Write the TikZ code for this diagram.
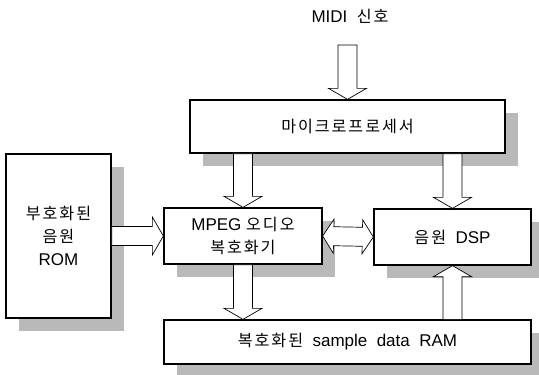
\documentclass[tikz,border=0pt]{standalone}
\usepackage{fontspec}
\setmainfont{Liberation Sans}
\newfontfamily\kr[LetterSpace=12,Scale=0.95]{Noto Sans CJK KR}
\usetikzlibrary{calc,shadows}

% hollow block arrow from #1 to #2
\newcommand{\fatarrow}[2]{%
  \draw[fat] ($(#1)!9.5pt!90:(#2)$) -- ($(#2)!11pt!(#1)!9.5pt!-90:(#1)$)
    -- ($(#2)!11pt!(#1)!19pt!-90:(#1)$) -- (#2)
    -- ($(#2)!11pt!(#1)!19pt!90:(#1)$) -- ($(#2)!11pt!(#1)!9.5pt!90:(#1)$)
    -- ($(#1)!9.5pt!-90:(#2)$) -- cycle;}
% same, with a head at both ends
\newcommand{\dfatarrow}[2]{%
  \draw[fat] (#1) -- ($(#1)!11pt!(#2)!17pt!90:(#2)$) -- ($(#1)!11pt!(#2)!9.5pt!90:(#2)$)
    -- ($(#2)!11pt!(#1)!9.5pt!-90:(#1)$) -- ($(#2)!11pt!(#1)!17pt!-90:(#1)$) -- (#2)
    -- ($(#2)!11pt!(#1)!17pt!90:(#1)$) -- ($(#2)!11pt!(#1)!9.5pt!90:(#1)$)
    -- ($(#1)!11pt!(#2)!9.5pt!-90:(#2)$) -- ($(#1)!11pt!(#2)!17pt!-90:(#2)$) -- cycle;}

\begin{document}
\begin{tikzpicture}
  [x=1pt,y=-1pt,
   every node/.style={font=\fontsize{17}{23}\selectfont,align=center},
   block/.style={draw,line width=1.3pt,fill=white,inner sep=0pt,
     drop shadow={shadow xshift=13pt,shadow yshift=-13pt,fill=gray!55,opacity=1}},
   fat/.style={draw,line width=0.7pt,fill=white,line join=miter}]
  \useasboundingbox (0,0) rectangle (539,375);

  \node (midi) at (350,16) {MIDI~~{\kr 신호}};
  \node[block,minimum width=315pt,minimum height=53pt] (micro) at (347.5,126.5) {\kr 마이크로프로세서};
  \node[block,minimum width=105pt,minimum height=164pt] (rom) at (58.5,236) {{\kr 부호화된}\\{\kr 음원}\\ROM};
  \node[block,minimum width=158pt,minimum height=56pt] (mpeg) at (243,236) {MPEG {\kr 오디오}\\{\kr 복호화기}};
  \node[block,minimum width=157pt,minimum height=56pt] (dsp) at (452.5,237) {{\kr 음원}~~DSP};
  \node[block,minimum width=367pt,minimum height=44pt] (ram) at (347.5,342) {{\kr 복호화된}~~sample~~data~~RAM};

  \coordinate (midiin) at (micro.north |- 0,45);
  \coordinate (m2p) at (micro.south -| mpeg.north);
  \coordinate (m2d) at (micro.south -| dsp.north);
  \coordinate (p2r) at (ram.north -| mpeg.south);
  \coordinate (r2d) at (ram.north -| dsp.south);

  \fatarrow{midiin}{micro.north}
  \fatarrow{m2p}{mpeg.north}
  \fatarrow{m2d}{dsp.north}
  \fatarrow{mpeg.south}{p2r}
  \fatarrow{r2d}{dsp.south}
  \fatarrow{rom.east}{mpeg.west}
  \dfatarrow{mpeg.east}{dsp.west}

\end{tikzpicture}
\end{document}
